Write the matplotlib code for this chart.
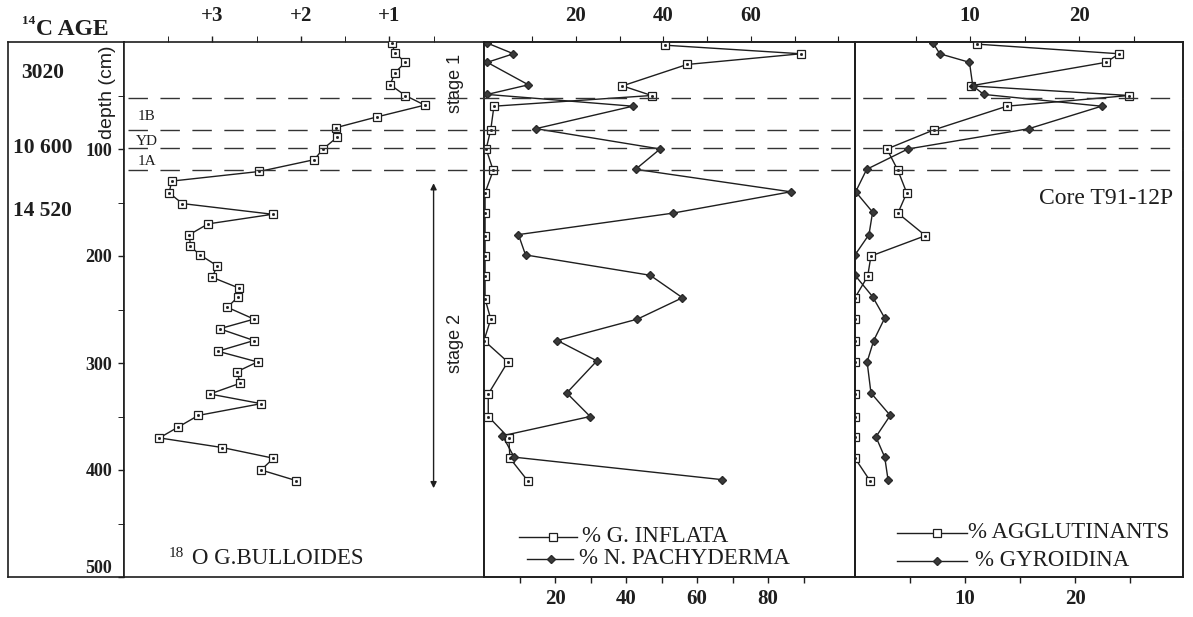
import matplotlib
matplotlib.use("Agg")
import matplotlib.pyplot as plt
from matplotlib.lines import Line2D
from matplotlib.transforms import blended_transform_factory

SERIF = "Liberation Serif"
SANS = "Liberation Sans"
INK = "#1e1e1e"
plt.rcParams["font.family"] = SERIF

# radiocarbon ages written beside the depth scale
ages = ["3020", "10 600", "14 520"]
age_depth = [29, 99, 158]

# zone boundaries (cm) and labels
zone_lines = [52, 82, 99, 120]
zone_names = ["1B", "YD", "1A"]
zone_depth = [70, 93, 112]

# d18O of G. bulloides (per mil, axis reversed)
d18o_depth = [1, 10, 19, 29, 40, 50, 59, 70, 80, 89, 100, 110, 121, 130, 141,
              151, 161, 170, 180, 191, 199, 209, 220, 230, 238, 248, 259, 268,
              279, 289, 299, 308, 319, 329, 338, 349, 360, 370, 379, 389, 400, 410]
d18o = [0.97, 0.94, 0.82, 0.94, 0.99, 0.82, 0.60, 1.14, 1.60, 1.59, 1.75, 1.85,
        2.47, 3.46, 3.49, 3.34, 2.32, 3.05, 3.26, 3.25, 3.14, 2.95, 3.00, 2.70,
        2.71, 2.83, 2.53, 2.92, 2.53, 2.94, 2.49, 2.72, 2.69, 3.03, 2.45, 3.16,
        3.39, 3.60, 2.89, 2.31, 2.45, 2.05]

# planktonic percentages
inflata_depth = [3, 11, 21, 41, 50, 60, 82, 100, 120, 141, 160, 181, 200, 219,
                 240, 259, 279, 299, 329, 350, 370, 389, 410]
inflata = [51.0, 89.3, 57.2, 39.0, 47.2, 2.8, 1.9, 0.6, 2.6, 0.3, 0.3, 0.3, 0.3,
           0.3, 0.3, 1.9, 0.0, 6.7, 1.2, 1.2, 7.0, 7.3, 12.3]
pachy_depth = [1, 11, 19, 40, 49, 60, 81, 100, 119, 140, 160, 180, 199, 218,
               239, 259, 279, 298, 328, 350, 368, 388, 409]
pachy = [0.9, 8.3, 0.9, 12.5, 0.9, 41.9, 14.6, 49.6, 42.7, 86.4, 53.1, 9.7, 11.7,
         46.8, 55.9, 43.2, 20.7, 31.8, 23.3, 29.9, 5.2, 8.5, 67.0]

# benthic percentages
aggl_depth = [2, 11, 19, 41, 50, 60, 82, 100, 120, 141, 160, 181, 200, 219, 239,
              259, 279, 299, 329, 350, 369, 389, 410]
aggl = [11.1, 24.0, 22.8, 10.5, 24.9, 13.8, 7.2, 2.9, 3.9, 4.7, 3.9, 6.4, 1.45,
        1.15, 0, 0, 0, 0, 0, 0, 0, 0, 1.36]
gyro_depth = [1, 11, 19, 41, 49, 60, 81, 100, 119, 140, 159, 180, 199, 218, 238,
              258, 279, 299, 328, 349, 369, 388, 409]
gyro = [7.1, 7.7, 10.4, 10.7, 11.7, 22.4, 15.8, 4.8, 1.06, 0.06, 1.6, 1.27, 0.0,
        0.0, 1.6, 2.7, 1.7, 1.1, 1.45, 3.2, 1.9, 2.7, 3.0]

W, H = 1193, 617
fig = plt.figure(figsize=(W / 100, H / 100), dpi=100)


def box(x0, x1, y0=42, y1=577):
    return [x0 / W, 1 - y1 / H, (x1 - x0) / W, (y1 - y0) / H]


def fpt(x, y):
    return x / W, 1 - y / H


ax_age = fig.add_axes(box(8, 124))
ax1 = fig.add_axes(box(124, 484))
ax2 = fig.add_axes(box(484, 855))
ax3 = fig.add_axes(box(855, 1183))

for ax in (ax_age, ax1, ax2, ax3):
    ax.set_ylim(500, 0)
    for s in ax.spines.values():
        s.set_linewidth(1.2)
        s.set_color(INK)
    ax.tick_params(colors=INK, direction="out", length=4.5, width=1)

ax_age.set_xlim(0, 1)
ax_age.set_xticks([])
ax_age.set_yticks([])
for lab, d in zip(ages, age_depth):
    ax_age.text(0.30, d, lab, ha="center", va="center", fontsize=15.5,
                fontweight="bold", color=INK)
ax_age.text((107 - 8) / 116, 47, "depth (cm)", rotation=90, ha="center",
            va="center", family=SANS, fontsize=14, color=INK)


def squares(ax, x, y):
    ax.plot(x, y, "-", color=INK, lw=1.0, marker="s", ms=5.2, mfc="white",
            mec=INK, mew=0.9, zorder=3)
    ax.plot(x, y, "s", color=INK, ms=1.0, zorder=4)


def diamonds(ax, x, y):
    ax.plot(x, y, "-", color=INK, lw=1.0, marker="D", ms=4.3, mfc="#3a3a3a",
            mec="#2a2a2a", zorder=3)


bold = dict(fontsize=15, fontweight="bold", color=INK)

# left panel: d18O
squares(ax1, d18o, d18o_depth)
ax1.set_xlim(4.0, -0.07)
ax1.xaxis.tick_top()
ax1.set_xticks([1, 2, 3], ["+1", "+2", "+3"], **bold)
ax1.set_xticks([0.5, 1.5, 2.5, 3.5], minor=True)
ax1.tick_params(axis="x", which="both", top=True, bottom=False, length=4.5,
                pad=7)
ax1.set_yticks([100, 200, 300, 400, 500], ["100", "200", "300", "400", "500"],
               fontsize=13, fontweight="bold", color=INK)
ax1.set_yticks([50, 150, 250, 350, 450], minor=True)
ax1.tick_params(axis="y", which="both", length=4.5, pad=4)
ax1.yaxis.get_major_ticks()[-1].label1.set_verticalalignment("bottom")
for name, d in zip(zone_names, zone_depth):
    ax1.text(3.74, d, name, ha="center", va="center", fontsize=11, color=INK)
ax1.text(0.25, 39, "stage 1", rotation=90, ha="center", va="center",
         family=SANS, fontsize=13, color=INK)
ax1.text(0.25, 282, "stage 2", rotation=90, ha="center", va="center",
         family=SANS, fontsize=13, color=INK)
ax1.annotate("", xy=(0.5, 132), xytext=(0.5, 417),
             arrowprops=dict(arrowstyle="<|-|>", lw=1.0, color=INK,
                             shrinkA=0, shrinkB=0, mutation_scale=9))

# middle panel: planktonic
squares(ax2, inflata, inflata_depth)
diamonds(ax2, pachy, pachy_depth)
ax2.set_xlim(0, 104.5)
ax2.set_xticks(range(10, 100, 10),
               ["", "20", "", "40", "", "60", "", "80", ""], **bold)
ax2.tick_params(axis="x", bottom=True, top=False, pad=4.5)
ax2.tick_params(axis="y", left=False, labelleft=False)
ax2t = ax2.twiny()
ax2t.set_xlim(-1.03, 83.8)
ax2t.set_xticks(range(10, 90, 10),
                ["", "20", "", "40", "", "60", "", ""], **bold)
ax2t.tick_params(axis="x", top=True, bottom=False, length=4.5, pad=7,
                 colors=INK)

# right panel: benthic
squares(ax3, aggl, aggl_depth)
diamonds(ax3, gyro, gyro_depth)
ax3.set_xlim(0, 29.8)
ax3.set_xticks([5, 10, 15, 20, 25], ["", "10", "", "20", ""], **bold)
ax3.tick_params(axis="x", bottom=True, top=False, pad=4.5)
ax3.tick_params(axis="y", left=False, labelleft=False)
ax3t = ax3.twiny()
ax3t.set_xlim(-0.55, 29.5)
ax3t.set_xticks([5, 10, 15, 20, 25], ["", "10", "", "20", ""], **bold)
ax3t.tick_params(axis="x", top=True, bottom=False, length=4.5, pad=7,
                 colors=INK)
for t in (ax2t, ax3t):
    for s in t.spines.values():
        s.set_linewidth(1.2)
        s.set_color(INK)

# dashed zone boundaries across all panels
trans = blended_transform_factory(fig.transFigure, ax1.transData)
for d in zone_lines:
    fig.add_artist(Line2D([128 / W, 1183 / W], [d, d], transform=trans,
                          color="#333333", lw=1.0, ls=(0, (14, 9))))

# texts
fig.text(*fpt(22, 24), "14", fontsize=9.5, fontweight="bold", color=INK,
         va="baseline")
fig.text(*fpt(36, 35), "C AGE", fontsize=17, fontweight="bold", color=INK,
         va="baseline")
fig.text(*fpt(169, 557), "18", fontsize=11, color=INK, va="baseline")
fig.text(*fpt(192, 564), "O G.BULLOIDES", fontsize=16.5, color=INK,
         va="baseline")
fig.text(*fpt(1039, 198), "Core T91-12P", fontsize=17, color=INK,
         va="center")


# hand-drawn legend keys
def key(x0, x1, xm, y, marker, label, xt):
    fig.add_artist(Line2D([x0 / W, x1 / W], [1 - y / H] * 2,
                          transform=fig.transFigure, color=INK, lw=1.0))
    if marker == "s":
        fig.add_artist(Line2D([xm / W], [1 - y / H], transform=fig.transFigure,
                              marker="s", ms=5.2, mfc="white", mec=INK,
                              mew=0.9))
    else:
        fig.add_artist(Line2D([xm / W], [1 - y / H], transform=fig.transFigure,
                              marker="D", ms=4.3, mfc="#3a3a3a",
                              mec="#2a2a2a"))
    fig.text(*fpt(xt, y), label, fontsize=16.5, color=INK, va="center")


key(519, 577, 553, 537, "s", "% G. INFLATA", 582)
key(527, 573, 551, 559, "D", "% N. PACHYDERMA", 579)
key(897, 967, 937, 533, "s", "% AGGLUTINANTS", 968)
key(897, 967, 937, 561, "D", "% GYROIDINA", 975)

fig.savefig("out.png", dpi=100, facecolor="white")
